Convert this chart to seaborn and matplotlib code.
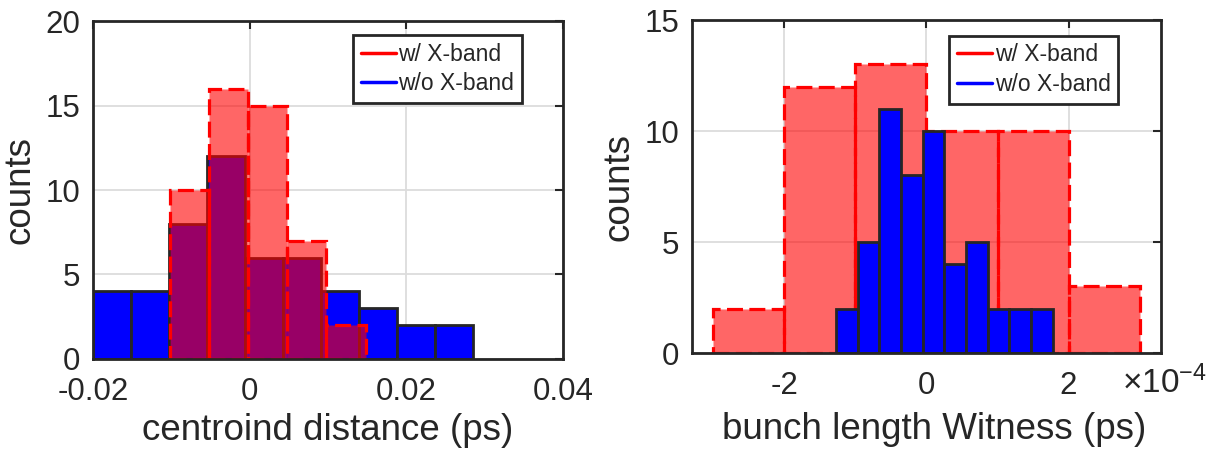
import numpy as np
import pandas as pd
import matplotlib
matplotlib.use("Agg")
import matplotlib.pyplot as plt
import seaborn as sns
from matplotlib.lines import Line2D

# Centroid distance (ps): binned counts with and without X-band
cd_with_start = -0.0102
cd_with_width = 0.0050
cd_with_counts = [10, 16, 15, 7, 2]

cd_without_start = -0.0200
cd_without_width = 0.00485
cd_without_counts = [4, 4, 8, 12, 6, 6, 4, 3, 2, 2]

# Witness bunch length (ps): binned counts with and without X-band
bl_with_start = -3.0e-4
bl_with_width = 1.0e-4
bl_with_counts = [2, 12, 13, 10, 10, 3]

bl_without_start = -1.272e-4
bl_without_width = 0.305e-4
bl_without_counts = [2, 5, 11, 8, 10, 4, 5, 2, 2, 2]

series_labels = ["w/ X-band", "w/o X-band"]

cd_xticks = [-0.02, 0, 0.02, 0.04]
cd_xticklabels = ["-0.02", "0", "0.02", "0.04"]
cd_yticks = [0, 5, 10, 15, 20]

bl_xticks = [-2e-4, 0, 2e-4]
bl_xticklabels = ["-2", "0", "2"]
bl_yticks = [0, 5, 10, 15]

RED = (1.0, 0.0, 0.0)
BLUE = (0.0, 0.0, 1.0)
DARK = "#262626"

sns.set_style("white")
plt.rcParams["font.family"] = ["Liberation Sans", "DejaVu Sans"]
plt.rcParams["mathtext.fontset"] = "custom"
plt.rcParams["mathtext.rm"] = "Liberation Sans"
plt.rcParams["axes.unicode_minus"] = False


def binned(start, width, counts):
    counts = np.asarray(counts, dtype=float)
    edges = start + width * np.arange(len(counts) + 1)
    centers = 0.5 * (edges[:-1] + edges[1:])
    df = pd.DataFrame({"value": centers, "count": counts})
    return df, [float(v) for v in edges]


def hist_with(ax, start, width, counts):
    df, edges = binned(start, width, counts)
    sns.histplot(data=df, x="value", weights="count", bins=edges, ax=ax,
                 color=RED, alpha=0.6, edgecolor=RED, linewidth=2.3,
                 linestyle=(0, (5, 2)))


def hist_without(ax, start, width, counts):
    df, edges = binned(start, width, counts)
    sns.histplot(data=df, x="value", weights="count", bins=edges, ax=ax,
                 color=BLUE, alpha=1.0, edgecolor=DARK, linewidth=2.0)


def style_axes(ax, xlim, ylim, xticks, xticklabels, yticks, xlabel,
               legend_anchor, xlabelpad):
    ax.set_xlim(xlim)
    ax.set_ylim(ylim)
    ax.set_xticks(xticks)
    ax.set_xticklabels(xticklabels)
    ax.set_yticks(yticks)
    ax.set_yticklabels([str(t) for t in yticks])
    ax.set_xlabel(xlabel, fontsize=26.5, color=DARK, labelpad=xlabelpad)
    ax.set_ylabel("counts", fontsize=26.5, color=DARK, labelpad=6)
    ax.grid(True, color="#dcdcdc", linewidth=1.3)
    ax.set_axisbelow(True)
    ax.tick_params(direction="in", length=6, width=1.5, top=True, right=True,
                   labelsize=22.5, colors=DARK)
    ax.tick_params(axis="x", pad=13)
    ax.tick_params(axis="y", pad=9)
    for s in ax.spines.values():
        s.set_visible(True)
        s.set_color(DARK)
        s.set_linewidth(2)
    handles = [Line2D([], [], color=RED, lw=2.5), Line2D([], [], color=BLUE, lw=2.5)]
    leg = ax.legend(handles, series_labels, loc="upper right",
                    bbox_to_anchor=legend_anchor, fontsize=16.5,
                    handlelength=1.55, handletextpad=0.1, borderpad=0.32,
                    labelspacing=0.3, borderaxespad=0, frameon=True,
                    fancybox=False, edgecolor=DARK, framealpha=1)
    leg.get_frame().set_linewidth(2)


fig = plt.figure(figsize=(12.3, 4.59), dpi=100)
ax1 = fig.add_axes([0.0756, 0.2179, 0.3821, 0.7363])
ax2 = fig.add_axes([0.5626, 0.2309, 0.3813, 0.7255])

# Left: blue drawn first, translucent red on top
hist_without(ax1, cd_without_start, cd_without_width, cd_without_counts)
hist_with(ax1, cd_with_start, cd_with_width, cd_with_counts)
style_axes(ax1, (-0.02, 0.04), (0, 20), cd_xticks, cd_xticklabels, cd_yticks,
           "centroind distance (ps)", (0.912, 0.958), 4)

# Right: translucent red first, blue on top
hist_with(ax2, bl_with_start, bl_with_width, bl_with_counts)
hist_without(ax2, bl_without_start, bl_without_width, bl_without_counts)
style_axes(ax2, (-3.3e-4, 3.3e-4), (0, 15), bl_xticks, bl_xticklabels, bl_yticks,
           "bunch length Witness (ps)", (0.908, 0.952), 8)
ax2.xaxis.label.set_x(0.517)
ax2.text(0.917, -0.12, r"$\mathregular{\times10^{-4}}$", transform=ax2.transAxes,
         ha="left", va="baseline", fontsize=24, color=DARK)

fig.savefig("out.png", dpi=100)
